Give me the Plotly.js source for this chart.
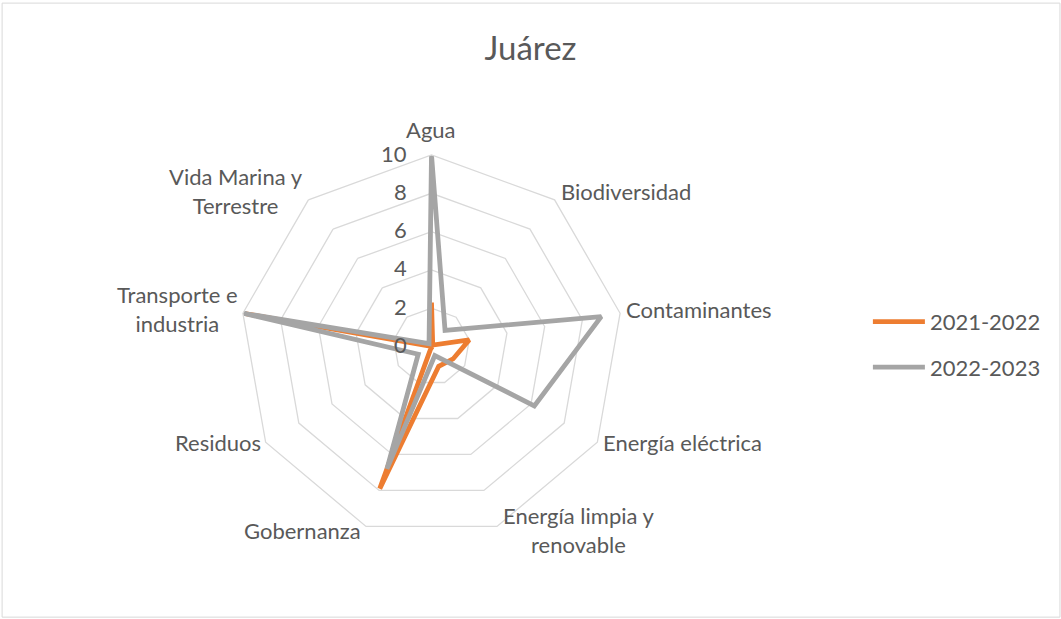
<!DOCTYPE html>
<html>
<head>
<meta charset="utf-8">
<script src="https://cdn.plot.ly/plotly-3.0.1.min.js"></script>
<style>html,body{margin:0;padding:0;background:#fff}#chart{width:1061px;height:619px}</style>
</head>
<body>
<div id="chart"></div>
<script>
const categories = ["Agua", "Biodiversidad", "Contaminantes", "Energía eléctrica", "Energía limpia y<br>renovable", "Gobernanza", "Residuos", "Transporte e<br>industria", "Vida Marina y<br>Terrestre"];
const values2021 = [2.3, 0.1, 2.0, 1.3, 1.1, 7.9, 0.0, 10, 0.0];
const values2022 = [10, 1.1, 9.0, 6.2, 0.5, 6.8, 0.8, 10, 0.2];
const seriesNames = ["2021-2022", "2022-2023"];
const radialTicks = [0, 2, 4, 6, 8, 10];

function closed(a) { return a.concat([a[0]]); }

const W = 1061, H = 619;
const textColor = "#595959";
const font = "Lato, 'Open Sans', sans-serif";
const domain = {x: [240/W, 623/W], y: [81/H, 464/H]};
const rMax = radialTicks[radialTicks.length - 1];

// geometry of the polar area (pixels), from its domain
const cx = (domain.x[0] + domain.x[1]) / 2 * W;
const cy = H - (domain.y[0] + domain.y[1]) / 2 * H;
const R = (domain.x[1] - domain.x[0]) * W / 2;

const traces = [
  {type: "scatterpolar", mode: "lines", name: seriesNames[0], legendgroup: "a",
   r: closed(values2021), theta: closed(categories), hoverinfo: "skip",
   line: {color: "#ED7D31", width: 4.8, shape: "linear"}},
  {type: "scatterpolar", mode: "lines", name: seriesNames[1], legendgroup: "b",
   r: closed(values2022), theta: closed(categories), hoverinfo: "skip",
   line: {color: "#A5A5A5", width: 4.8, shape: "linear"}}
];

// Category labels placed Excel-style just outside each vertex
const annotations = [];
categories.forEach(function (c, i) {
  const a = i * 2 * Math.PI / categories.length;
  const s = Math.sin(a), co = Math.cos(a);
  let px = cx + R * s, py = cy - R * co;
  let xanchor = "center", yanchor = "middle";
  if (i === 0) { py -= 26; }
  else {
    if (s > 0.01) { xanchor = "left"; px += 4; }
    else if (s < -0.01) { xanchor = "right"; px -= 3; }
    py += -7 * co - 3;
  }
  annotations.push({text: c, xref: "paper", yref: "paper", x: px / W, y: 1 - py / H,
    xanchor: xanchor, yanchor: yanchor, align: "center", showarrow: false,
    font: {family: font, size: 22, color: textColor}});
});
// Radial tick labels, left of the first spoke
radialTicks.forEach(function (t) {
  const py = cy - R * t / rMax - 2;
  annotations.push({text: String(t), xref: "paper", yref: "paper", x: (cx - 22) / W, y: 1 - py / H,
    xanchor: "right", yanchor: "middle", showarrow: false,
    font: {family: font, size: 22, color: textColor}});
});

const layout = {
  width: W, height: H,
  margin: {l: 0, r: 0, t: 0, b: 0},
  paper_bgcolor: "#fff",
  font: {family: font, color: textColor, size: 22},
  title: {text: "Juárez", font: {family: font, size: 33, color: textColor}, x: 0.5, xanchor: "center", y: 0.922, yanchor: "middle"},
  showlegend: true,
  hovermode: false,
  legend: {x: 0.818, xanchor: "left", y: 0.443, yanchor: "middle", tracegroupgap: 14, itemwidth: 52,
           font: {family: font, size: 22, color: textColor}, bgcolor: "rgba(0,0,0,0)"},
  polar: {
    domain: domain,
    bgcolor: "rgba(0,0,0,0)",
    gridshape: "linear",
    angularaxis: {
      rotation: 90, direction: "clockwise",
      showgrid: false, showline: true, linecolor: "#D9D9D9", linewidth: 1.3,
      ticks: "", showticklabels: false
    },
    radialaxis: {
      range: [0, rMax], tickvals: radialTicks, angle: 90,
      showline: false, ticks: "", gridcolor: "#D9D9D9", gridwidth: 1.3,
      showticklabels: false
    }
  },
  annotations: annotations,
  shapes: [{type: "rect", xref: "paper", yref: "paper", x0: 0.002, x1: 0.999, y0: 0.003, y1: 0.995,
            line: {color: "#D9D9D9", width: 1}}]
};

Plotly.newPlot("chart", traces, layout, {displayModeBar: false, staticPlot: true});
</script>
</body>
</html>
